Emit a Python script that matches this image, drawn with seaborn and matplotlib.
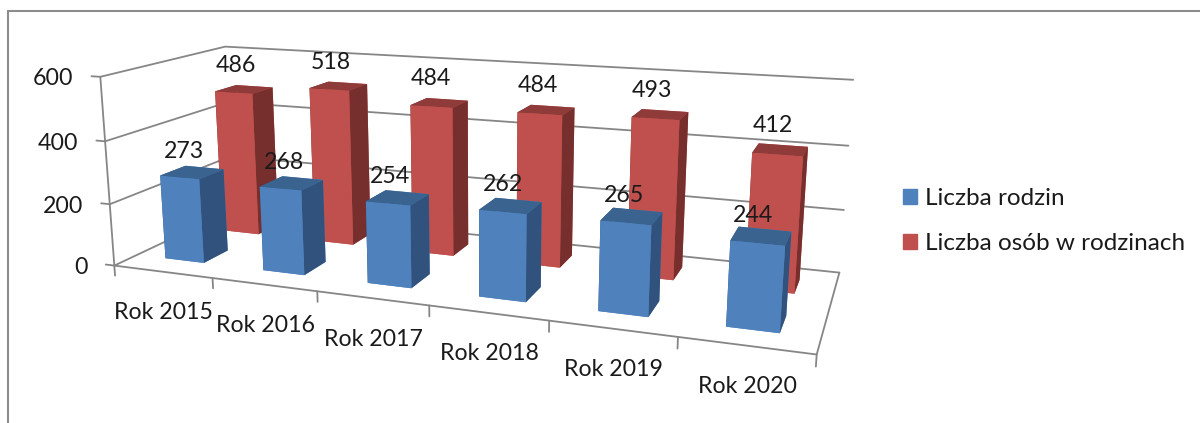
import matplotlib
matplotlib.use('Agg')
import matplotlib.pyplot as plt
from matplotlib.lines import Line2D
from matplotlib.patches import Patch
import seaborn as sns
from mpl_toolkits.mplot3d import Axes3D, proj3d

# values
years = ["Rok 2015", "Rok 2016", "Rok 2017", "Rok 2018", "Rok 2019", "Rok 2020"]
rodziny = [273, 268, 254, 262, 265, 244]
osoby = [486, 518, 484, 484, 493, 412]
z_ticks = [0, 200, 400, 600]
series_names = ["Liczba rodzin", "Liczba osób w rodzinach"]

sns.set_theme(style="white")
plt.rcParams['font.family'] = ['Lato', 'DejaVu Sans']

# front, top and side colours of the boxes
blue = {"front": "#4F81BD", "top": "#3A6390", "side": "#30527C"}
red = {"front": "#C0504D", "top": "#8E3B39", "side": "#772F2D"}
grid_color = "#868686"
text_color = "#1A1A1A"
fs = 16.7

W, H = 1200, 423
fig = plt.figure(figsize=(W / 100, H / 100), dpi=100)

# axes box found by fitting the wall corners of the picture
side = 742.4
ax = fig.add_axes([91.48 / W, -133.7 / H, side / W, side / H], projection='3d')
ax.computed_zorder = False
ax.set_axis_off()
ax.view_init(13.734, -69.453, 0.125)
ax.set_proj_type('persp', focal_length=0.309)
ax.set_box_aspect((4, 1.3277, 1.1195))


def line3d(xs, ys, zs):
    ax.plot(xs, ys, zs, color=grid_color, lw=1.3, zorder=1, clip_on=False)


# walls and floor
for z in z_ticks:
    line3d([0, 0, 6], [0, 1, 1], [z, z, z])
    line3d([-0.09, 0], [0, 0], [z, z])
line3d([0, 0], [0, 0], [0, 600])
line3d([0, 6, 6], [0, 0, 1], [0, 0, 0])
for i in range(len(years) + 1):
    line3d([i, i], [0, 0], [0, -33])


def draw_bars(values, y0, depth, shades, order):
    for i, v in enumerate(values):
        # bottom, top, front, back, left, right
        faces = [shades["front"], shades["top"], shades["front"],
                 shades["front"], shades["side"], shades["side"]]
        ax.bar3d(i + 0.3, y0, 0, 0.4, depth, v, color=faces, shade=False,
                 linewidth=0, zorder=order + i, clip_on=False)


blue_y, blue_depth = 0.17, 0.2
red_y, red_depth = 0.65, 0.19
draw_bars(osoby, red_y, red_depth, red, 10)
draw_bars(rodziny, blue_y, blue_depth, blue, 20)

ax.set_xlim(0, 6)
ax.set_ylim(0, 1)
ax.set_zlim(0, 600)
ax.set_xticks([])
ax.set_yticks([])
ax.set_zticks([])


def label(x, y, z, text, dx, dy, ha='center'):
    # text goes on the figure, dx and dy are pixels from the projected point (dy downwards)
    u, v, _ = proj3d.proj_transform(x, y, z, ax.get_proj())
    px, py = ax.transData.transform((u, v))
    fig.text((px + dx) / W, (py - dy) / H, text, ha=ha, va='center',
             fontsize=fs, color=text_color)


for z in z_ticks:
    label(0, 0, z, str(z), -27, 2, ha='right')
for i, name in enumerate(years):
    label(i + 0.5, 0, 0, name, 1, 41)
for i, v in enumerate(osoby):
    label(i + 0.5, red_y + red_depth / 2, v, str(v), -8, -24)
for i, v in enumerate(rodziny):
    label(i + 0.5, blue_y + blue_depth / 2, v, str(v), -8, -21)

# legend on the right
handles = [Patch(color=blue["front"]), Patch(color=red["front"])]
fig.legend(handles, series_names, loc='center left', bbox_to_anchor=(903 / W, 1 - 221 / H),
           frameon=False, fontsize=17.5, handlelength=0.58, handleheight=0.58,
           handletextpad=0.33, labelspacing=0.975, borderpad=0, borderaxespad=0,
           labelcolor=text_color)

# gray frame of the chart area
frame = dict(color="#8C8C8C", lw=1.5, transform=fig.transFigure)
fig.add_artist(Line2D([8 / W, 8 / W], [0, 1 - 11 / H], **frame))
fig.add_artist(Line2D([8 / W, 1], [1 - 11 / H, 1 - 11 / H], **frame))

fig.savefig("out.png", dpi=100)
